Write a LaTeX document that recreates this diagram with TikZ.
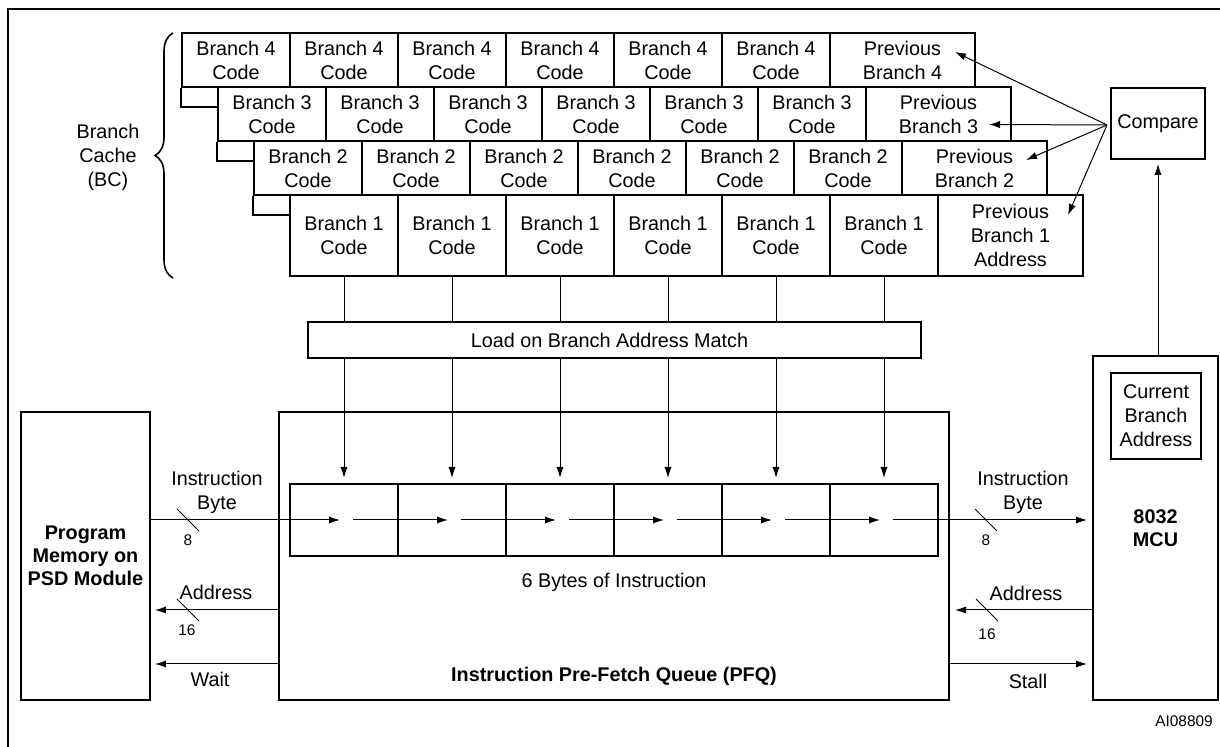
\documentclass[tikz,border=0pt]{standalone}
\usepackage{fontspec}
\setmainfont{Liberation Sans}
\usetikzlibrary{arrows.meta}
\usetikzlibrary{decorations.pathreplacing}

\tikzset{
  box/.style={draw,line width=1pt},
  cell/.style={box,fill=white,inner sep=0pt,align=center,minimum width=54pt,minimum height=27pt},
  prevcell/.style={minimum width=72.5pt},
  wire/.style={line width=0.5pt},
  bus/.style={wire,-{Latex[length=5.5pt,width=3.6pt]}},
  txt/.style={inner sep=0pt,align=center},
  small/.style={txt,font=\fontsize{7.7}{9}\selectfont}
}

\begin{document}
\begin{tikzpicture}[x=0.5pt,y=-0.5pt,font=\fontsize{9.9}{12}\selectfont]
\useasboundingbox (0,0) rectangle (1220,747);
\draw[line width=1.3pt] (8,770) -- (8,9) -- (1240,9);

\foreach \r/\x/\y in {4/182/33,3/218/87,2/254/141} {
  \foreach \i in {1,...,6}
    \node[cell] (bc\r-\i) at ({\x+54+108*(\i-1)},{\y+27}) {Branch \r\\Code};
  \node[cell,prevcell] (prev\r) at ({\x+720.5},{\y+27}) {Previous\\Branch \r};
  \draw[box] (bc\r-1.south west) -- ++(0,19) -- ++(36,0);
}
\foreach \i in {1,...,6}
  \node[cell,minimum height=40.5pt] (bc1-\i) at ({344+108*(\i-1)},235.5) {Branch 1\\Code};
\node[cell,prevcell,minimum height=40.5pt] (prev1) at (1010.5,235.5) {Previous\\Branch 1\\Address};

\draw[line width=0.8pt,decorate,decoration={brace,amplitude=9pt}] (173,278) -- (173,33);
\node[txt] (bclbl) at (108,157) {Branch\\Cache\\(BC)};

\node[box,minimum width=47pt,minimum height=35.5pt,inner sep=0pt] (cmp) at (1158,123.5) {Compare};
\coordinate (fan) at (1107,125);
\coordinate (t4) at (955,52);
\coordinate (t3) at (989,124.5);
\coordinate (t2) at (1026,160);
\coordinate (t1) at (1068,215);
\foreach \k in {1,...,4}
  \draw[bus] (fan) -- (t\k);

\node[box,minimum width=306.5pt,minimum height=18pt] (load) at (614.5,340) {Load on Branch Address Match\hspace*{5pt}};

\node[box,minimum width=335pt,minimum height=144pt] (pfq) at (614,556) {};
\node[txt,font=\fontsize{9.9}{12}\selectfont\bfseries] (pfqlbl) at (614,676) {Instruction Pre-Fetch Queue (PFQ)};
\foreach \i in {1,...,6}
  \node[box,minimum width=54pt,minimum height=36pt,inner sep=0pt] (q\i) at ({344+108*(\i-1)},520) {};
\node[txt] (qlbl) at (614,582) {6 Bytes of Instruction};

\node[box,minimum width=63.5pt,minimum height=144pt,align=center,font=\fontsize{9.9}{11.5}\selectfont\bfseries] (pm) at (85.5,556) {Program\\Memory on\\PSD Module};
\node[box,minimum width=62.5pt,minimum height=172pt,align=center,font=\fontsize{9.9}{11.5}\selectfont\bfseries] (mcu) at (1155.5,528) {8032\\MCU};
\node[box,minimum width=45pt,minimum height=43pt,inner sep=0pt,align=center] (cba) at (1156,416) {Current\\Branch\\Address};

\draw[bus,shorten >=2pt] (cmp.south |- mcu.north) -- (cmp.south);

\foreach \i in {1,...,6} {
  \draw[wire] (bc1-\i.south) -- (bc1-\i.south |- load.north);
  \draw[bus,shorten >=2.5pt] (bc1-\i.south |- load.south) -- (q\i.north);
}

\draw[bus,shorten >=2pt] (pm.east |- q1) -- (q1.center);
\foreach \i/\j in {1/2,2/3,3/4,4/5,5/6}
  \draw[bus,shorten >=2pt] ([xshift=4.5pt]q\i.center) -- (q\j.center);
\draw[bus,shorten >=2.5pt] ([xshift=4.5pt]q6.center) -- (mcu.west |- q6);

\coordinate (ya) at (0,610);
\coordinate (yw) at (0,664);
\draw[bus,shorten >=2pt] (pfq.west |- ya) -- (pm.east |- ya);
\draw[bus,shorten >=2pt] (pfq.west |- yw) -- (pm.east |- yw);
\draw[bus,shorten >=2.5pt] (mcu.west |- ya) -- (pfq.east |- ya);
\draw[bus,shorten >=2.5pt] (pfq.east |- yw) -- (mcu.west |- yw);

\draw[wire] (177,509) -- (199,531);
\draw[wire] (975,509) -- (997,531);
\draw[wire] (177,599) -- (199,621);
\draw[wire] (976,599) -- (998,621);

\node[txt] (ibl) at (217,492) {Instruction\\Byte};
\node[txt] (ibr) at (1023,492) {Instruction\\Byte};
\node[small] (w8l) at (188,540) {8};
\node[small] (w8r) at (986,540) {8};
\node[txt] (adl) at (216,592) {Address};
\node[txt] (adr) at (1026,593) {Address};
\node[small] (w16l) at (187,630) {16};
\node[small] (w16r) at (987,634) {16};
\node[txt] (waitlbl) at (210,679) {Wait};
\node[txt] (stalllbl) at (1028,681) {Stall};
\node[small] (figid) at (1184,721) {AI08809};
\end{tikzpicture}
\end{document}
